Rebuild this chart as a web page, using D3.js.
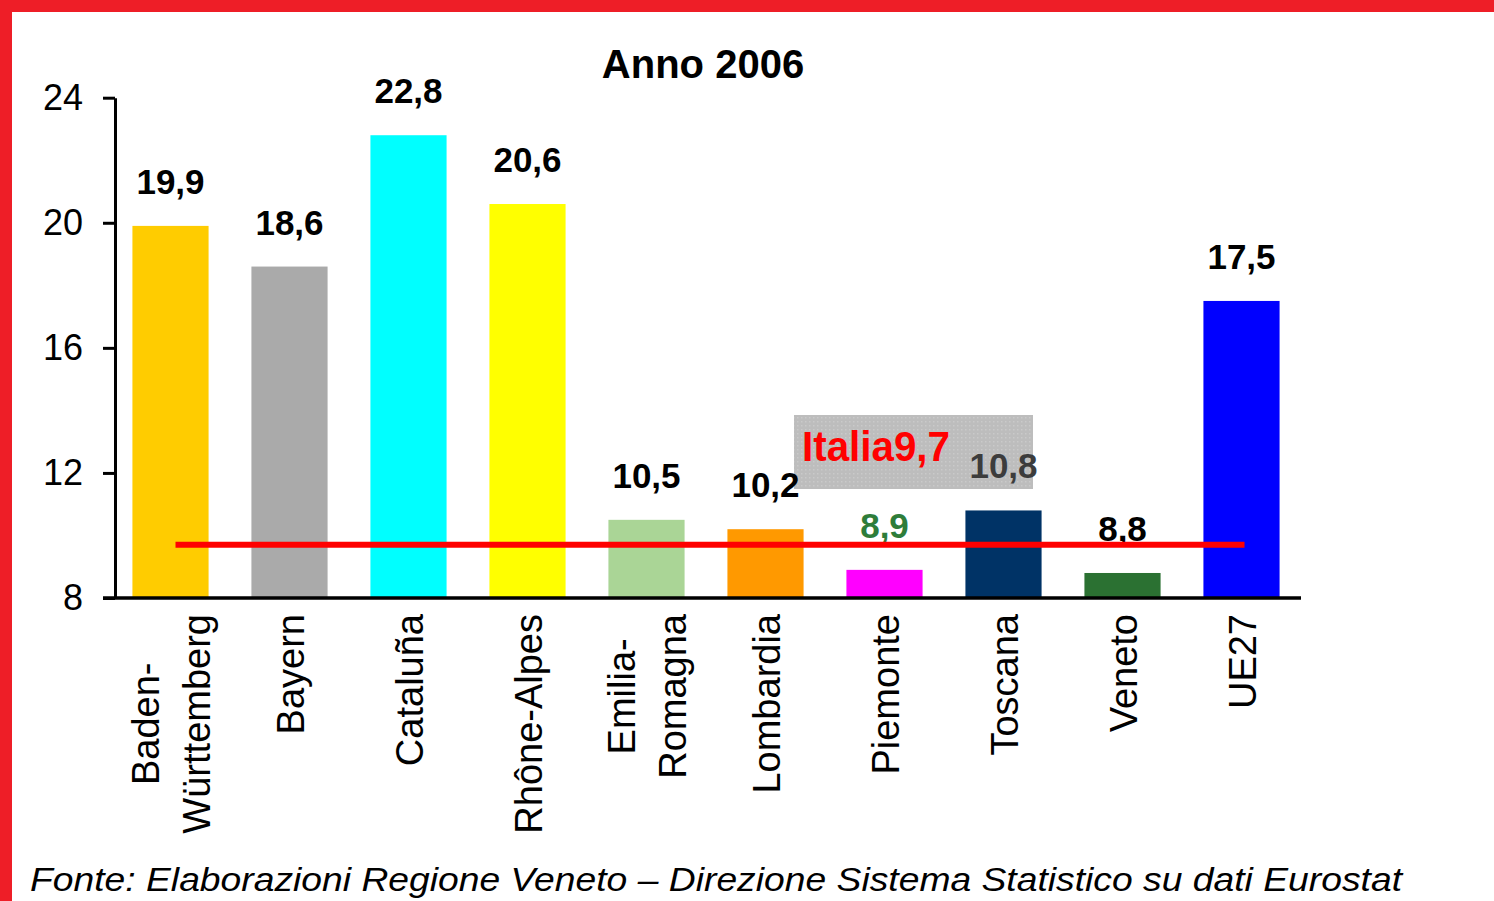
<!DOCTYPE html>
<html>
<head>
<meta charset="utf-8">
<script src="https://cdn.jsdelivr.net/npm/d3@7"></script>
<style>
  html, body { margin: 0; padding: 0; background: #fff; }
  svg { display: block; }
</style>
</head>
<body>
<script>
// ---- data ----
const categories = ["Baden-\nWürttemberg", "Bayern", "Cataluña", "Rhône-Alpes", "Emilia-\nRomagna", "Lombardia", "Piemonte", "Toscana", "Veneto", "UE27"];
const values = [19.9, 18.6, 22.8, 20.6, 10.5, 10.2, 8.9, 10.8, 8.8, 17.5];
const barColors = ["#FFCC00", "#AAAAAA", "#00FFFF", "#FFFF00", "#AAD596", "#FF9900", "#FF00FF", "#003366", "#2B7132", "#0000FF"];
const labelColors = ["#000", "#000", "#000", "#000", "#000", "#000", "#2E7D3A", "#3C3C3C", "#000", "#000"];
const yTicks = [8, 12, 16, 20, 24];
const italiaValue = 9.7;
const titleText = "Anno 2006";
const sourceText = "Fonte: Elaborazioni Regione Veneto – Direzione Sistema Statistico su dati Eurostat";

const W = 1494, H = 901;
const svg = d3.select("body").append("svg").attr("width", W).attr("height", H);

// frame
svg.append("rect").attr("width", W).attr("height", H).attr("fill", "#fff");
svg.append("rect").attr("x", 0).attr("y", 0).attr("width", W).attr("height", 12).attr("fill", "#EE1E27");
svg.append("rect").attr("x", 0).attr("y", 0).attr("width", 12).attr("height", H).attr("fill", "#EE1E27");

// pattern for annotation box
const defs = svg.append("defs");
const pat = defs.append("pattern").attr("id", "dots").attr("patternUnits", "userSpaceOnUse")
  .attr("width", 4).attr("height", 4);
pat.append("rect").attr("width", 4).attr("height", 4).attr("fill", "#BDBDBD");
pat.append("rect").attr("x", 1).attr("y", 1).attr("width", 1.5).attr("height", 1.5).attr("fill", "#CACACA");

const x = d3.scaleBand().domain(categories).range([111, 1301]).paddingInner(0.36).paddingOuter(0.18);
const y = d3.scaleLinear().domain([8, 24]).range([598, 97.7]);
const bw = x.bandwidth();

// title
svg.append("text").attr("x", 703).attr("y", 78).attr("text-anchor", "middle")
  .attr("font-family", "Liberation Sans, Arial, sans-serif").attr("font-weight", "bold")
  .attr("font-size", 40).attr("fill", "#000").text(titleText);

// annotation box (behind labels)
svg.append("rect").attr("x", 794).attr("y", 415).attr("width", 239).attr("height", 74)
  .attr("fill", "url(#dots)");

// bars
svg.append("g").selectAll("rect").data(categories).join("rect")
  .attr("x", d => x(d)).attr("width", bw)
  .attr("y", (d, i) => y(values[i])).attr("height", (d, i) => y(8) - y(values[i]))
  .attr("fill", (d, i) => barColors[i]);

// value labels
const fmt = v => v.toFixed(1).replace(".", ",");
svg.append("g").selectAll("text").data(categories).join("text")
  .attr("x", d => x(d) + bw / 2).attr("y", (d, i) => y(values[i]) - 32)
  .attr("text-anchor", "middle")
  .attr("font-family", "Liberation Sans, Arial, sans-serif").attr("font-weight", "bold")
  .attr("font-size", 35).attr("fill", (d, i) => labelColors[i])
  .text((d, i) => fmt(values[i]));

// Italia text
svg.append("text").attr("x", 802).attr("y", 461)
  .attr("font-family", "Liberation Sans, Arial, sans-serif").attr("font-weight", "bold")
  .attr("font-size", 42).attr("fill", "#FF0000")
  .attr("textLength", 148).attr("lengthAdjust", "spacingAndGlyphs")
  .text("Italia" + fmt(italiaValue));

// y axis
const yAxis = d3.axisLeft(y).tickValues(yTicks).tickSize(12).tickSizeOuter(0).tickPadding(20);
const gy = svg.append("g").attr("transform", "translate(115,0)").call(yAxis);
gy.selectAll("path, line").attr("stroke", "#000").attr("stroke-width", 3);
gy.selectAll("text").attr("font-family", "Liberation Sans, Arial, sans-serif")
  .attr("font-size", 36).attr("fill", "#000");

// x axis line
svg.append("line").attr("x1", 103).attr("x2", 1301).attr("y1", y(8)).attr("y2", y(8))
  .attr("stroke", "#000").attr("stroke-width", 3.5);

// x labels (rotated)
const lineH = 51, capH = 28, topY = 614;
const gx = svg.append("g");
categories.forEach(cat => {
  const lines = cat.split("\n");
  const g = gx.append("g").attr("transform", `translate(${x(cat) + bw / 2},${topY}) rotate(-90)`);
  const total = (lines.length - 1) * lineH + capH;
  const texts = lines.map((ln, i) => g.append("text")
    .attr("font-family", "Liberation Sans, Arial, sans-serif").attr("font-size", 38)
    .attr("fill", "#000").attr("text-anchor", "middle")
    .attr("y", -total / 2 + capH + i * lineH).text(ln));
  const maxLen = d3.max(texts, t => t.node().getComputedTextLength());
  texts.forEach(t => t.attr("x", -maxLen / 2));
});

// Italia line
svg.append("line")
  .attr("x1", x(categories[0]) + bw / 2 + 5).attr("x2", x(categories[categories.length - 1]) + bw / 2 + 3)
  .attr("y1", y(italiaValue)).attr("y2", y(italiaValue))
  .attr("stroke", "#FF0000").attr("stroke-width", 6);

// source
svg.append("text").attr("x", 30).attr("y", 891)
  .attr("font-family", "Liberation Sans, Arial, sans-serif").attr("font-style", "italic")
  .attr("font-size", 34).attr("fill", "#000")
  .attr("textLength", 1372).attr("lengthAdjust", "spacingAndGlyphs")
  .text(sourceText);
</script>
</body>
</html>
